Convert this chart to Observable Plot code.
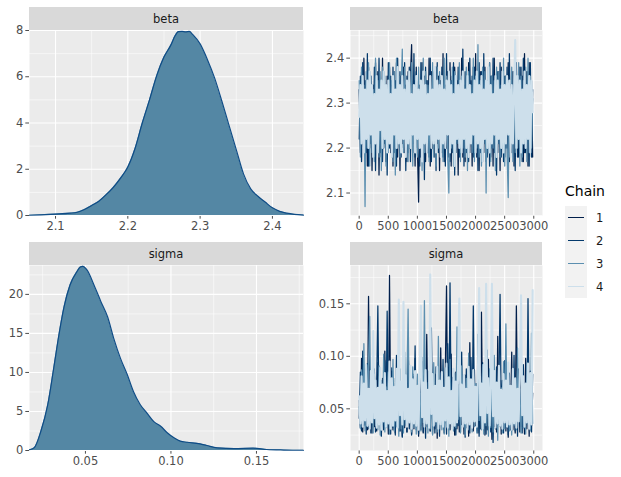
<!DOCTYPE html>
<html>
<head>
<meta charset="utf-8">
<script src="https://cdn.jsdelivr.net/npm/d3@7"></script>
<script src="https://cdn.jsdelivr.net/npm/@observablehq/plot@0.6"></script>
<style>
  html, body { margin: 0; padding: 0; background: #ffffff; }
  #root { position: relative; width: 621px; height: 477px; background: #ffffff; overflow: hidden;
          font-family: "DejaVu Sans", sans-serif; }
  .cell { position: absolute; }
  .strip { position: absolute; background: #d9d9d9; color: #1a1a1a; font-size: 11.5px;
           display: flex; align-items: center; justify-content: center; }
  .legend { position: absolute; left: 565px; top: 182px; font-size: 11.5px; color: #1a1a1a; }
  .legend .title { font-size: 14px; color: #000; margin-bottom: 6px; line-height: 18px; }
  .legend .row { display: flex; align-items: center; height: 23px; }
  .legend .key { width: 22px; height: 23px; background: #f2f2f2; position: relative; }
  .legend .key span { position: absolute; left: 3px; right: 3px; top: 11px; height: 1px; }
  .legend .lab { margin-left: 9px; }
</style>
</head>
<body>
<div id="root"></div>
<script>
// ---------------- DATA ----------------
const parameters = ["beta", "sigma"];
const chains = [1, 2, 3, 4];
const chainColors = ["#011f4b", "#03396c", "#5b8fb0", "#cddfeb"];

// density curves
const betaDensX = [2.064, 2.08, 2.10, 2.12, 2.13, 2.14, 2.15, 2.16, 2.17, 2.18, 2.19, 2.20, 2.21, 2.22, 2.23, 2.24, 2.25, 2.26, 2.265, 2.27, 2.275, 2.28, 2.285, 2.29, 2.30, 2.31, 2.32, 2.33, 2.34, 2.35, 2.36, 2.37, 2.38, 2.39, 2.40, 2.41, 2.42, 2.43, 2.443];
const betaDensY = [0.01, 0.03, 0.06, 0.10, 0.14, 0.26, 0.43, 0.62, 0.90, 1.22, 1.62, 2.10, 2.90, 4.00, 5.00, 6.05, 6.85, 7.40, 7.75, 7.95, 7.96, 7.94, 7.96, 7.82, 7.42, 6.75, 5.95, 4.95, 3.90, 2.85, 1.80, 1.15, 0.83, 0.58, 0.33, 0.18, 0.10, 0.05, 0.02];
const sigmaDensX = [0.0173, 0.020, 0.024, 0.028, 0.0315, 0.0345, 0.0375, 0.041, 0.045, 0.047, 0.0485, 0.051, 0.055, 0.059, 0.063, 0.0665, 0.0705, 0.0745, 0.078, 0.082, 0.086, 0.090, 0.094, 0.098, 0.102, 0.1055, 0.1095, 0.117, 0.121, 0.127, 0.137, 0.148, 0.156, 0.166, 0.1775];
const sigmaDensY = [0.10, 0.34, 2.5, 5.9, 10.6, 14.8, 18.4, 21.2, 22.9, 23.5, 23.6, 23.1, 21.2, 19.1, 17.1, 14.4, 11.8, 9.7, 7.6, 5.9, 4.8, 3.7, 3.1, 2.25, 1.6, 1.2, 1.06, 0.85, 0.64, 0.34, 0.25, 0.30, 0.13, 0.06, 0.03];

// trace draws, every 20th iteration (iterations 1, 21, 41, ... 2981)
const traceStep = 20;
const betaChain1 = [
2.33,2.19,2.37,2.21,2.40,2.18,2.35,2.16,2.38,2.20,
2.36,2.15,2.34,2.19,2.39,2.22,2.37,2.14,2.35,2.18,
2.40,2.20,2.33,2.17,2.36,2.21,2.38,2.19,2.34,2.16,
2.37,2.20,2.39,2.18,2.35,2.15,2.36,2.21,2.38,2.19,
2.34,2.17,2.37,2.20,2.36,2.43,2.19,2.35,2.16,2.38,
2.20,2.08,2.34,2.18,2.39,2.21,2.36,2.17,2.35,2.19,
2.40,2.16,2.37,2.20,2.33,2.18,2.38,2.21,2.36,2.15,
2.35,2.19,2.41,2.17,2.34,2.20,2.37,2.18,2.39,2.16,
2.36,2.21,2.38,2.19,2.35,2.14,2.37,2.20,2.40,2.18,
2.34,2.17,2.36,2.21,2.39,2.19,2.35,2.16,2.38,2.20,
2.41,2.18,2.36,2.15,2.37,2.20,2.34,2.19,2.38,2.17,
2.35,2.21,2.39,2.18,2.36,2.16,2.40,2.20,2.34,2.19,
2.37,2.15,2.38,2.21,2.35,2.18,2.36,2.20,2.39,2.17,
2.34,2.19,2.37,2.16,2.40,2.20,2.35,2.18,2.38,2.21,
2.36,2.17,2.41,2.19,2.37,2.16,2.39,2.20,2.35,2.18];
const betaChain2 = [
2.22,2.36,2.17,2.39,2.20,2.35,2.19,2.41,2.16,2.37,
2.21,2.34,2.18,2.38,2.15,2.36,2.20,2.40,2.19,2.35,
2.17,2.37,2.21,2.33,2.14,2.39,2.20,2.36,2.18,2.38,
2.19,2.35,2.16,2.40,2.21,2.37,2.18,2.34,2.20,2.39,
2.15,2.36,2.19,2.38,2.17,2.35,2.21,2.41,2.18,2.37,
2.20,2.34,2.16,2.39,2.19,2.36,2.13,2.38,2.21,2.35,
2.18,2.40,2.17,2.37,2.20,2.35,2.15,2.39,2.19,2.36,
2.21,2.38,2.18,2.34,2.16,2.41,2.20,2.37,2.17,2.35,
2.19,2.39,2.14,2.36,2.21,2.38,2.18,2.35,2.20,2.42,
2.16,2.37,2.19,2.34,2.17,2.40,2.21,2.36,2.18,2.38,
2.20,2.35,2.15,2.39,2.19,2.37,2.17,2.41,2.21,2.34,
2.18,2.38,2.16,2.36,2.20,2.40,2.19,2.35,2.14,2.37,
2.21,2.39,2.18,2.34,2.17,2.36,2.20,2.38,2.16,2.41,
2.19,2.35,2.21,2.37,2.15,2.39,2.18,2.36,2.20,2.38,
2.17,2.40,2.19,2.35,2.21,2.37,2.16,2.39,2.18,2.33];
const betaChain3 = [
2.35,2.18,2.38,2.21,2.34,2.07,2.37,2.20,2.39,2.16,
2.36,2.19,2.33,2.17,2.40,2.21,2.35,2.18,2.37,2.15,
2.38,2.20,2.36,2.16,2.34,2.19,2.39,2.21,2.35,2.17,
2.37,2.14,2.40,2.20,2.36,2.18,2.33,2.42,2.19,2.38,
2.21,2.35,2.17,2.37,2.20,2.39,2.16,2.34,2.19,2.36,
2.18,2.38,2.21,2.35,2.15,2.40,2.19,2.37,2.20,2.34,
2.17,2.36,2.21,2.39,2.18,2.35,2.16,2.38,2.20,2.37,
2.19,2.34,2.17,2.40,2.21,2.36,2.18,2.10,2.35,2.20,
2.38,2.16,2.37,2.19,2.34,2.21,2.39,2.17,2.36,2.20,
2.35,2.18,2.38,2.15,2.37,2.21,2.34,2.19,2.40,2.17,
2.36,2.20,2.43,2.18,2.35,2.16,2.38,2.21,2.37,2.10,
2.34,2.19,2.39,2.17,2.36,2.20,2.35,2.15,2.38,2.21,
2.37,2.18,2.34,2.20,2.40,2.16,2.36,2.19,2.09,2.35,
2.21,2.38,2.17,2.37,2.19,2.34,2.20,2.39,2.16,2.36,
2.18,2.35,2.21,2.38,2.17,2.40,2.19,2.36,2.20,2.31];
const betaChain4 = [
2.27,2.34,2.21,2.36,2.19,2.33,2.22,2.35,2.20,2.37,
2.23,2.34,2.18,2.32,2.21,2.36,2.19,2.33,2.24,2.35,
2.20,2.37,2.22,2.34,2.19,2.35,2.21,2.32,2.18,2.36,
2.23,2.33,2.20,2.38,2.21,2.34,2.19,2.36,2.22,2.33,
2.18,2.35,2.21,2.37,2.20,2.32,2.23,2.34,2.19,2.36,
2.22,2.33,2.20,2.35,2.17,2.37,2.21,2.34,2.19,2.32,
2.23,2.36,2.20,2.33,2.21,2.38,2.19,2.35,2.22,2.34,
2.18,2.36,2.21,2.33,2.20,2.35,2.23,2.37,2.19,2.34,
2.21,2.32,2.16,2.36,2.22,2.34,2.20,2.35,2.19,2.37,
2.22,2.33,2.20,2.36,2.18,2.34,2.21,2.32,2.23,2.35,
2.19,2.37,2.21,2.34,2.20,2.36,2.17,2.33,2.22,2.35,
2.20,2.38,2.19,2.34,2.21,2.32,2.23,2.36,2.18,2.35,
2.22,2.33,2.20,2.37,2.19,2.34,2.21,2.36,2.23,2.35,
2.18,2.34,2.21,2.32,2.44,2.20,2.36,2.22,2.35,2.19,
2.33,2.21,2.37,2.20,2.34,2.22,2.36,2.19,2.35,2.28];

const sigmaChain1 = [
0.058,0.032,0.098,0.028,0.075,0.035,0.088,0.030,0.157,0.041,
0.066,0.027,0.082,0.033,0.071,0.029,0.094,0.036,0.062,0.025,
0.079,0.031,0.105,0.038,0.068,0.026,0.177,0.044,0.086,0.030,
0.061,0.027,0.073,0.034,0.092,0.029,0.067,0.024,0.084,0.032,
0.070,0.028,0.116,0.037,0.063,0.026,0.081,0.031,0.098,0.035,
0.059,0.024,0.077,0.030,0.088,0.027,0.069,0.033,0.121,0.039,
0.072,0.029,0.094,0.026,0.065,0.031,0.083,0.022,0.076,0.034,
0.108,0.036,0.064,0.027,0.089,0.167,0.041,0.079,0.030,0.102,
0.033,0.068,0.025,0.085,0.031,0.073,0.028,0.096,0.035,0.061,
0.026,0.082,0.032,0.070,0.024,0.113,0.037,0.066,0.029,0.087,
0.034,0.074,0.027,0.091,0.031,0.142,0.040,0.063,0.025,0.080,
0.030,0.097,0.036,0.068,0.021,0.084,0.033,0.072,0.028,0.119,
0.038,0.077,0.026,0.064,0.032,0.093,0.029,0.081,0.023,0.070,
0.035,0.104,0.030,0.067,0.027,0.148,0.042,0.075,0.028,0.089,
0.033,0.062,0.026,0.098,0.031,0.078,0.024,0.086,0.034,0.065];
const sigmaChain2 = [
0.041,0.085,0.029,0.105,0.034,0.070,0.026,0.093,0.031,0.078,
0.027,0.064,0.035,0.088,0.028,0.072,0.148,0.039,0.081,0.024,
0.067,0.030,0.096,0.033,0.143,0.045,0.074,0.026,0.089,0.032,
0.063,0.025,0.101,0.036,0.077,0.029,0.069,0.023,0.086,0.034,
0.071,0.028,0.092,0.031,0.065,0.025,0.083,0.037,0.110,0.030,
0.068,0.026,0.079,0.034,0.095,0.028,0.062,0.022,0.087,0.033,
0.074,0.029,0.127,0.040,0.066,0.027,0.090,0.032,0.071,0.024,
0.084,0.035,0.097,0.030,0.063,0.026,0.112,0.038,0.170,0.046,
0.080,0.031,0.069,0.025,0.093,0.034,0.076,0.028,0.104,0.036,
0.065,0.023,0.088,0.032,0.072,0.027,0.099,0.035,0.148,0.043,
0.070,0.029,0.085,0.024,0.067,0.033,0.094,0.030,0.078,0.026,
0.106,0.037,0.064,0.028,0.082,0.018,0.073,0.031,0.090,0.035,
0.068,0.159,0.044,0.077,0.027,0.096,0.032,0.066,0.025,0.084,
0.030,0.071,0.036,0.101,0.029,0.079,0.024,0.088,0.033,0.063,
0.027,0.092,0.031,0.074,0.036,0.155,0.041,0.069,0.028,0.083];
const sigmaChain3 = [
0.052,0.031,0.087,0.036,0.112,0.029,0.074,0.033,0.095,0.138,
0.040,0.068,0.027,0.083,0.034,0.066,0.030,0.091,0.025,0.077,
0.035,0.102,0.028,0.071,0.032,0.085,0.026,0.064,0.037,0.097,
0.029,0.079,0.033,0.069,0.024,0.088,0.031,0.073,0.027,0.104,
0.036,0.076,0.145,0.042,0.067,0.028,0.090,0.032,0.071,0.026,
0.083,0.034,0.065,0.029,0.099,0.037,0.153,0.043,0.075,0.027,
0.086,0.031,0.070,0.025,0.094,0.035,0.068,0.028,0.119,0.038,
0.077,0.030,0.064,0.026,0.089,0.033,0.073,0.024,0.097,0.036,
0.068,0.029,0.084,0.032,0.128,0.040,0.072,0.027,0.091,0.034,
0.066,0.025,0.079,0.031,0.103,0.037,0.070,0.028,0.087,0.033,
0.074,0.027,0.121,0.039,0.065,0.030,0.092,0.026,0.078,0.034,
0.069,0.024,0.088,0.032,0.073,0.028,0.101,0.036,0.067,0.020,
0.082,0.033,0.070,0.027,0.095,0.031,0.131,0.041,0.076,0.029,
0.066,0.025,0.087,0.034,0.073,0.030,0.108,0.038,0.069,0.027,
0.083,0.032,0.071,0.026,0.094,0.035,0.067,0.029,0.122,0.036];
const sigmaChain4 = [
0.062,0.036,0.081,0.033,0.074,0.039,0.092,0.034,0.069,0.031,
0.086,0.037,0.124,0.041,0.077,0.032,0.070,0.035,0.089,0.030,
0.073,0.038,0.084,0.033,0.067,0.036,0.095,0.031,0.079,0.034,
0.071,0.039,0.088,0.032,0.154,0.044,0.076,0.035,0.152,0.040,
0.082,0.033,0.069,0.037,0.091,0.031,0.078,0.036,0.086,0.034,
0.072,0.030,0.094,0.148,0.042,0.075,0.033,0.087,0.036,0.068,
0.032,0.178,0.045,0.083,0.034,0.072,0.038,0.090,0.031,0.077,
0.035,0.085,0.033,0.070,0.039,0.093,0.032,0.080,0.036,0.067,
0.031,0.088,0.034,0.076,0.037,0.096,0.155,0.043,0.073,0.033,
0.082,0.036,0.069,0.030,0.090,0.035,0.078,0.032,0.087,0.038,
0.071,0.033,0.084,0.165,0.044,0.074,0.031,0.092,0.037,0.169,
0.046,0.079,0.034,0.070,0.169,0.043,0.086,0.032,0.075,0.036,
0.091,0.034,0.068,0.031,0.083,0.037,0.077,0.033,0.094,0.035,
0.072,0.030,0.088,0.036,0.079,0.032,0.069,0.038,0.090,0.158,
0.044,0.081,0.033,0.074,0.037,0.093,0.031,0.084,0.035,0.163];

// tick labels / breaks
const betaDensXTicks = [2.1, 2.2, 2.3, 2.4];
const betaDensXMinor = [2.15, 2.25, 2.35];
const betaDensYTicks = [0, 2, 4, 6, 8];
const betaDensYMinor = [1, 3, 5, 7];
const sigmaDensXTicks = [0.05, 0.10, 0.15];
const sigmaDensXMinor = [0.025, 0.075, 0.125, 0.175];
const sigmaDensYTicks = [0, 5, 10, 15, 20];
const sigmaDensYMinor = [2.5, 7.5, 12.5, 17.5, 22.5];
const iterTicks = [0, 500, 1000, 1500, 2000, 2500, 3000];
const iterMinor = [250, 750, 1250, 1750, 2250, 2750];
const betaTraceYTicks = [2.1, 2.2, 2.3, 2.4];
const betaTraceYMinor = [2.05, 2.15, 2.25, 2.35, 2.45];
const sigmaTraceYTicks = [0.05, 0.10, 0.15];
const sigmaTraceYMinor = [0.025, 0.075, 0.125, 0.175];

// ---------------- BUILD ----------------
const root = document.getElementById("root");
const FONT = '"DejaVu Sans", sans-serif';

function traceRows(arrays) {
  const rows = [];
  arrays.forEach((arr, c) => arr.forEach((v, i) => rows.push({chain: chains[c], iter: 1 + i * traceStep, value: v})));
  return rows;
}
function densRows(xs, ys) { return xs.map((x, i) => ({x, y: ys[i]})); }

function gridMarks(xMaj, xMin, yMaj, yMin) {
  return [
    Plot.frame({fill: "#ebebeb", stroke: null}),
    Plot.ruleX(xMin, {stroke: "#ffffff", strokeWidth: 0.55}),
    Plot.ruleY(yMin, {stroke: "#ffffff", strokeWidth: 0.55}),
    Plot.ruleX(xMaj, {stroke: "#ffffff", strokeWidth: 1.1}),
    Plot.ruleY(yMaj, {stroke: "#ffffff", strokeWidth: 1.1})
  ];
}

function place(node, left, top) {
  const d = document.createElement("div");
  d.className = "cell";
  d.style.left = left + "px";
  d.style.top = top + "px";
  d.appendChild(node);
  root.appendChild(d);
}
function strip(text, left, top, width) {
  const d = document.createElement("div");
  d.className = "strip";
  Object.assign(d.style, {left: left + "px", top: top + "px", width: width + "px", height: "23px"});
  d.textContent = text;
  root.appendChild(d);
}

const common = {
  style: {background: "transparent", color: "#4d4d4d", fontSize: "11.5px", fontFamily: FONT, overflow: "visible"},
};

function densPlot(rows, o) {
  return Plot.plot({
    ...common,
    width: o.width, height: o.height,
    marginLeft: 29, marginRight: 7, marginTop: 30, marginBottom: o.height - 30 - 185,
    x: {domain: o.xDomain, ticks: o.xTicks, tickFormat: o.xFormat, tickSize: 3.7, tickPadding: 2.5, label: null},
    y: {domain: o.yDomain, ticks: o.yTicks, tickFormat: d3.format("d"), tickSize: 3.7, tickPadding: 2.5, label: null},
    marks: [
      ...gridMarks(o.xTicks, o.xMinor, o.yTicks, o.yMinor),
      Plot.areaY(rows, {x: "x", y: "y", fill: "#5487a4", curve: "monotone-x"}),
      Plot.lineY(rows, {x: "x", y: "y", stroke: "#0f4c86", strokeWidth: 1.2, curve: "monotone-x"})
    ]
  });
}

function tracePlot(rows, o) {
  return Plot.plot({
    ...common,
    width: 240, height: o.height,
    marginLeft: 40, marginRight: 8, marginTop: 30, marginBottom: o.height - 30 - 185,
    x: {domain: [-149, 3150], ticks: iterTicks, tickFormat: d3.format("d"), tickSize: 3.7, tickPadding: 2.5, label: null},
    y: {domain: o.yDomain, ticks: o.yTicks, tickFormat: o.yFormat, tickSize: 3.7, tickPadding: 2.5, label: null},
    color: {domain: chains, range: chainColors},
    marks: [
      ...gridMarks(iterTicks, iterMinor, o.yTicks, o.yMinor.filter(v => v >= o.yDomain[0] && v <= o.yDomain[1])),
      Plot.lineY(rows.filter(d => d.chain !== 4), {x: "iter", y: "value", z: "chain", stroke: "chain", strokeWidth: 1.25}),
      Plot.lineY(rows.filter(d => d.chain === 4), {x: "iter", y: "value", z: "chain", stroke: "chain", strokeWidth: 2.1})
    ]
  });
}

place(densPlot(densRows(betaDensX, betaDensY), {
  width: 310, height: 240, xDomain: [2.064, 2.443], yDomain: [0, 8.0],
  xTicks: betaDensXTicks, xMinor: betaDensXMinor, yTicks: betaDensYTicks, yMinor: betaDensYMinor,
  xFormat: d3.format(".1f")
}), 0, 0);
place(densPlot(densRows(sigmaDensX, sigmaDensY), {
  width: 310, height: 242, xDomain: [0.0173, 0.1775], yDomain: [0, 23.7],
  xTicks: sigmaDensXTicks, xMinor: sigmaDensXMinor, yTicks: sigmaDensYTicks, yMinor: sigmaDensYMinor,
  xFormat: d3.format(".2f")
}), 0, 235);
place(tracePlot(traceRows([betaChain1, betaChain2, betaChain3, betaChain4]), {
  height: 240, yDomain: [2.050, 2.4615], yTicks: betaTraceYTicks, yMinor: betaTraceYMinor, yFormat: d3.format(".1f")
}), 310, 0);
place(tracePlot(traceRows([sigmaChain1, sigmaChain2, sigmaChain3, sigmaChain4]), {
  height: 242, yDomain: [0.0103, 0.1865], yTicks: sigmaTraceYTicks, yMinor: sigmaTraceYMinor, yFormat: d3.format(".2f")
}), 310, 235);

strip(parameters[0], 29, 7, 274);
strip(parameters[1], 29, 242, 274);
strip(parameters[0], 350, 7, 192);
strip(parameters[1], 350, 242, 192);

// legend
const lg = document.createElement("div");
lg.className = "legend";
lg.innerHTML = '<div class="title">Chain</div>' + chains.map((c, i) =>
  `<div class="row"><div class="key"><span style="background:${chainColors[i]}"></span></div><div class="lab">${c}</div></div>`).join("");
root.appendChild(lg);
</script>
</body>
</html>
